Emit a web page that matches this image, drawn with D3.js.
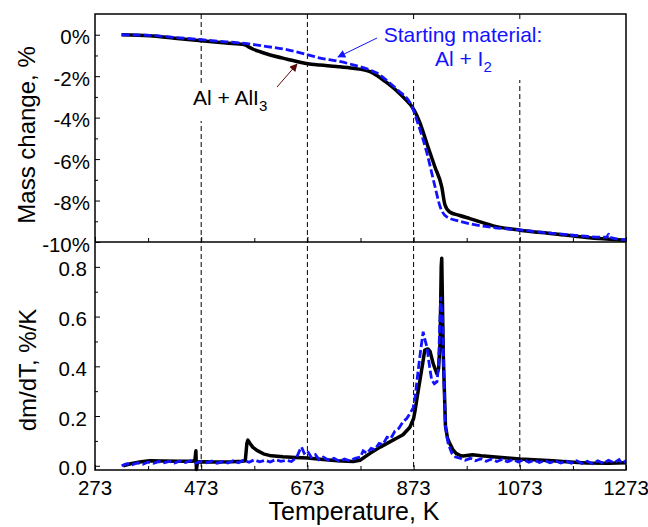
<!DOCTYPE html>
<html>
<head>
<meta charset="utf-8">
<script src="https://cdn.jsdelivr.net/npm/d3@7"></script>
<style>
  body { margin: 0; background: #fff; }
  svg { font-family: "Liberation Sans", Arial, sans-serif; }
</style>
</head>
<body>
<svg id="chart" width="648" height="527"></svg>
<script>
// ---- data ----
var xTicks = [273, 473, 673, 873, 1073, 1273];
var xMinor = [373, 573, 773, 973, 1173];
var refLines = [473, 673, 873, 1073];

var massTicks = [0, -2, -4, -6, -8, -10];
var massMinor = [-1, -3, -5, -7, -9];
var dmTicks = [0, 0.2, 0.4, 0.6, 0.8];
var dmMinor = [0.1, 0.3, 0.5, 0.7];

// mass change, Al + AlI3 (black)
var tBlackMass = [323, 376, 423, 473, 520, 555, 563, 571, 584, 597, 635, 674, 697, 728, 759, 791, 806, 822, 841, 853, 874, 885, 898, 913, 926, 932, 941, 960, 979, 1023, 1073, 1135, 1199, 1273];
var blackMass  = [0, -0.05, -0.17, -0.29, -0.4, -0.48, -0.6, -0.7, -0.82, -0.93, -1.18, -1.4, -1.46, -1.53, -1.62, -1.78, -2.0, -2.3, -2.7, -3.0, -3.64, -4.25, -5.25, -6.37, -7.34, -8.2, -8.55, -8.72, -8.87, -9.22, -9.43, -9.6, -9.78, -9.92];

// mass change, starting material Al + I2 (blue)
var tBlueMass = [323, 376, 423, 473, 520, 555, 597, 634, 674, 697, 728, 759, 791, 804, 822, 842, 870, 881, 898, 913, 923, 935, 960, 1011, 1073, 1135, 1237, 1240, 1243, 1273];
var blueMass  = [0, -0.03, -0.13, -0.24, -0.34, -0.42, -0.57, -0.72, -0.97, -1.13, -1.26, -1.45, -1.7, -1.85, -2.2, -2.65, -3.47, -4.27, -5.7, -7.3, -8.3, -8.78, -9.0, -9.26, -9.42, -9.58, -9.77, -9.62, -9.78, -9.9];

// dm/dT, Al + AlI3 (black)
var tBlackDm = [326, 340, 360, 376, 400, 430, 455, 461, 463, 464, 466, 473, 500, 530, 550, 556, 559, 561, 565, 570, 578, 590, 605, 627, 650, 674, 697, 730, 759, 772, 791, 810, 823, 840, 853, 866, 873, 876, 880, 885, 890, 894, 900, 904, 910, 917, 920, 923, 925, 926, 927, 929, 931, 933, 937, 941, 947, 953, 960, 966, 984, 1000, 1022, 1050, 1073, 1100, 1135, 1160, 1199, 1240, 1273];
var blackDm  = [0, 0.008, 0.016, 0.02, 0.019, 0.018, 0.018, 0.02, 0.06, -0.015, 0.015, 0.016, 0.015, 0.016, 0.018, 0.02, 0.09, 0.103, 0.09, 0.075, 0.062, 0.048, 0.04, 0.036, 0.033, 0.031, 0.026, 0.02, 0.017, 0.022, 0.05, 0.075, 0.09, 0.11, 0.125, 0.155, 0.19, 0.225, 0.28, 0.345, 0.41, 0.465, 0.47, 0.46, 0.41, 0.37, 0.39, 0.5, 0.8, 0.835, 0.7, 0.44, 0.3, 0.16, 0.11, 0.09, 0.065, 0.05, 0.042, 0.039, 0.044, 0.04, 0.036, 0.031, 0.027, 0.024, 0.02, 0.016, 0.011, 0.01, 0.012];

// dm/dT, starting material (blue, noisy)
var tBlueDm = [323, 333, 343, 353, 363, 373, 383, 393, 403, 413, 423, 433, 443, 453, 463, 473, 483, 493, 503, 513, 523, 533, 543, 553, 563, 573, 583, 593, 603, 613, 623, 633, 643, 653, 658, 662, 667, 673, 680, 688, 695, 703, 713, 723, 733, 743, 753, 763, 773, 778, 785, 793, 800, 808, 815, 823, 830, 838, 845, 853, 860, 866, 872, 876, 881, 886, 891, 894, 898, 903, 907, 912, 917, 920, 922, 924, 926, 928, 930, 933, 938, 945, 952, 960, 970, 980, 990, 1000, 1010, 1020, 1030, 1040, 1050, 1060, 1070, 1080, 1090, 1100, 1110, 1120, 1130, 1140, 1150, 1160, 1170, 1180, 1190, 1200, 1210, 1220, 1230, 1240, 1250, 1260, 1265, 1273];
var blueDm  = [0, 0.008, 0.004, 0.012, 0.006, 0.015, 0.01, 0.017, 0.012, 0.018, 0.011, 0.019, 0.013, 0.02, 0.01, 0.018, 0.012, 0.019, 0.01, 0.017, 0.011, 0.02, 0.012, 0.022, 0.014, 0.024, 0.016, 0.022, 0.015, 0.025, 0.018, 0.022, 0.017, 0.035, 0.06, 0.075, 0.05, 0.06, 0.035, 0.045, 0.025, 0.035, 0.022, 0.03, 0.018, 0.027, 0.02, 0.03, 0.035, 0.06, 0.05, 0.07, 0.065, 0.09, 0.085, 0.115, 0.11, 0.14, 0.15, 0.177, 0.19, 0.21, 0.232, 0.28, 0.372, 0.46, 0.539, 0.51, 0.478, 0.4, 0.345, 0.33, 0.338, 0.4, 0.55, 0.68, 0.62, 0.57, 0.35, 0.157, 0.09, 0.05, 0.035, 0.031, 0.022, 0.03, 0.02, 0.028, 0.018, 0.027, 0.017, 0.026, 0.016, 0.025, 0.015, 0.024, 0.014, 0.022, 0.013, 0.021, 0.012, 0.02, 0.011, 0.019, 0.01, 0.02, 0.009, 0.018, 0.008, 0.02, 0.01, 0.022, 0.012, 0.025, 0.01, 0.02];

// ---- layout ----
var plotLeft = 95, plotRight = 626, plotTop = 14, plotMid = 242, plotBottom = 470;
var blue = "#1212ff";

var svg = d3.select("#chart");

var x = d3.scaleLinear().domain([273, 1273]).range([plotLeft, plotRight]);
var yMass = d3.scaleLinear().domain([-10, 1]).range([plotMid, plotTop]);
var yDm = d3.scaleLinear().domain([-0.017, 0.9]).range([plotBottom, plotMid]);

function zip(a, b){
	var out = [];
	for(var i = 0; i < a.length; i++){
		out.push([a[i], b[i]]);
	}
	return out;
}

// vertical dashed reference lines
svg.selectAll(".ref").data(refLines).enter().append("line")
	.attr("class", "ref")
	.attr("x1", function(d){ return x(d); })
	.attr("x2", function(d){ return x(d); })
	.attr("y1", plotTop)
	.attr("y2", plotBottom)
	.style("stroke", "#000")
	.style("stroke-width", 1)
	.attr("stroke-dasharray", "5,3");

// white boxes behind the labels break the dashed lines
svg.append("rect").attr("x", 188).attr("y", 84).attr("width", 86).attr("height", 37).style("fill", "#fff");
svg.append("rect").attr("x", 380).attr("y", 21).attr("width", 168).attr("height", 59).style("fill", "#fff");

// axes (ticks point inward)
function tickAxis(axis, transform){
	svg.append("g").attr("transform", transform).call(axis)
		.call(function(s){ s.select(".domain").remove(); })
		.selectAll("line").style("stroke", "#000").style("stroke-width", 1);
}
tickAxis(d3.axisLeft(yMass).tickValues(massTicks).tickSize(-5).tickFormat(""), "translate(" + plotLeft + ",0)");
tickAxis(d3.axisLeft(yMass).tickValues(massMinor).tickSize(-3).tickFormat(""), "translate(" + plotLeft + ",0)");
tickAxis(d3.axisLeft(yDm).tickValues(dmTicks).tickSize(-5).tickFormat(""), "translate(" + plotLeft + ",0)");
tickAxis(d3.axisLeft(yDm).tickValues(dmMinor).tickSize(-3).tickFormat(""), "translate(" + plotLeft + ",0)");
tickAxis(d3.axisBottom(x).tickValues(xTicks).tickSize(-5).tickFormat(""), "translate(0," + plotMid + ")");
tickAxis(d3.axisBottom(x).tickValues(xMinor).tickSize(-4).tickFormat(""), "translate(0," + plotMid + ")");
tickAxis(d3.axisBottom(x).tickValues(xTicks).tickSize(-5).tickFormat(""), "translate(0," + plotBottom + ")");
tickAxis(d3.axisBottom(x).tickValues(xMinor).tickSize(-4).tickFormat(""), "translate(0," + plotBottom + ")");

// tick labels
svg.selectAll(".mlab").data(massTicks).enter().append("text")
	.attr("x", 90)
	.attr("y", function(d){ return yMass(d) + 9.5; })
	.attr("text-anchor", "end")
	.style("font-size", "20.5px")
	.text(function(d){ return d + "%"; });
svg.selectAll(".dlab").data(dmTicks).enter().append("text")
	.attr("x", 87)
	.attr("y", function(d){ return yDm(d) + 9.5; })
	.attr("text-anchor", "end")
	.style("font-size", "20.5px")
	.text(d3.format(".1f"));
svg.selectAll(".xlab").data(xTicks).enter().append("text")
	.attr("x", function(d){ return x(d); })
	.attr("y", 495)
	.attr("text-anchor", "middle")
	.style("font-size", "20.5px")
	.text(function(d){ return d; });

// axis titles
svg.append("text")
	.attr("x", 354).attr("y", 520)
	.attr("text-anchor", "middle")
	.style("font-size", "25px")
	.text("Temperature, K");
svg.append("text")
	.attr("transform", "translate(35,135) rotate(-90)")
	.attr("text-anchor", "middle")
	.style("font-size", "24px")
	.text("Mass change, %");
svg.append("text")
	.attr("transform", "translate(36,370) rotate(-90)")
	.attr("text-anchor", "middle")
	.style("font-size", "24px")
	.text("dm/dT, %/K");

// curves
var lineMass = d3.line().x(function(d){ return x(d[0]); }).y(function(d){ return yMass(d[1]); }).curve(d3.curveMonotoneX);
var lineDm = d3.line().x(function(d){ return x(d[0]); }).y(function(d){ return yDm(d[1]); });

svg.append("path").datum(zip(tBlackMass, blackMass))
	.attr("d", lineMass)
	.style("fill", "none").style("stroke", "#000").style("stroke-width", 3.5)
	.style("stroke-linejoin", "round");
svg.append("path").datum(zip(tBlueMass, blueMass))
	.attr("d", lineMass)
	.style("fill", "none").style("stroke", blue).style("stroke-width", 2.8)
	.attr("stroke-dasharray", "8,3");

svg.append("path").datum(zip(tBlackDm, blackDm))
	.attr("d", lineDm)
	.style("fill", "none").style("stroke", "#000").style("stroke-width", 3.5)
	.style("stroke-linejoin", "round");
svg.append("path").datum(zip(tBlueDm, blueDm))
	.attr("d", lineDm)
	.style("fill", "none").style("stroke", blue).style("stroke-width", 2.8)
	.attr("stroke-dasharray", "8,3");

// annotations
var defs = svg.append("defs");
function arrowHead(id, color){
	defs.append("marker")
		.attr("id", id)
		.attr("viewBox", "0 0 10 10")
		.attr("refX", 9).attr("refY", 5)
		.attr("markerWidth", 11).attr("markerHeight", 8)
		.attr("markerUnits", "userSpaceOnUse")
		.attr("orient", "auto")
		.append("path").attr("d", "M0,0 L10,5 L0,10 Z").style("fill", color);
}
arrowHead("headRed", "#5a0a0a");
arrowHead("headBlue", blue);

svg.append("line")
	.attr("x1", 277).attr("y1", 87).attr("x2", 297).attr("y2", 64)
	.style("stroke", "#5a0a0a").style("stroke-width", 1)
	.attr("marker-end", "url(#headRed)");
svg.append("line")
	.attr("x1", 377).attr("y1", 38).attr("x2", 338).attr("y2", 57)
	.style("stroke", blue).style("stroke-width", 1)
	.attr("marker-end", "url(#headBlue)");

var t1 = svg.append("text").attr("x", 193).attr("y", 105).style("font-size", "21px");
t1.append("tspan").text("Al + AlI");
t1.append("tspan").attr("dy", 6).style("font-size", "15px").text("3");

svg.append("text").attr("x", 463).attr("y", 42).attr("text-anchor", "middle")
	.style("font-size", "21px").style("fill", blue).text("Starting material:");
var t2 = svg.append("text").attr("x", 435).attr("y", 66)
	.style("font-size", "21px").style("fill", blue);
t2.append("tspan").text("Al + I");
t2.append("tspan").attr("dy", 6).style("font-size", "15px").text("2");

// frame
svg.append("rect")
	.attr("x", plotLeft).attr("y", plotTop)
	.attr("width", plotRight - plotLeft).attr("height", plotBottom - plotTop)
	.style("fill", "none").style("stroke", "#000").style("stroke-width", 1.5);
svg.append("line")
	.attr("x1", plotLeft).attr("x2", plotRight).attr("y1", plotMid).attr("y2", plotMid)
	.style("stroke", "#000").style("stroke-width", 1.5);
</script>
</body>
</html>
